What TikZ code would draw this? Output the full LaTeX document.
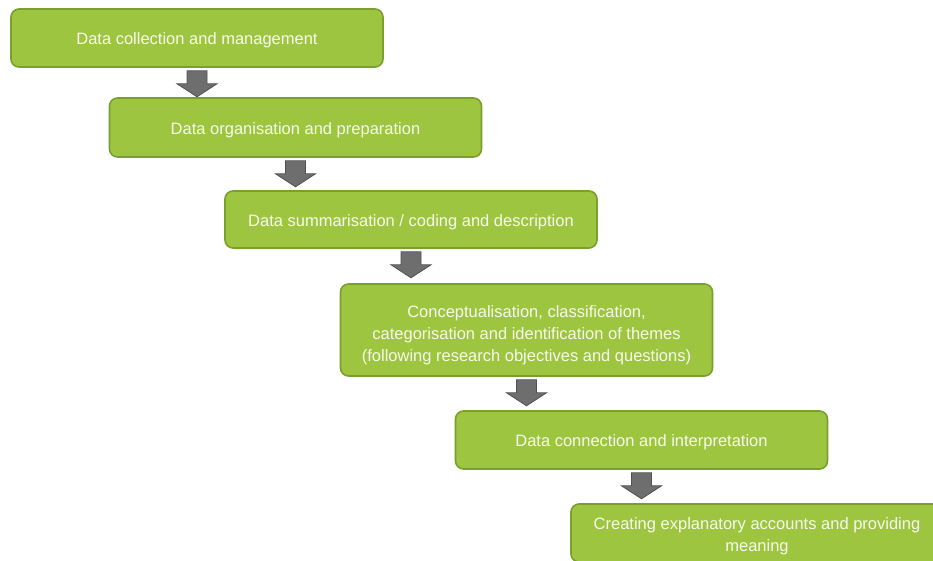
\documentclass[tikz,border=0pt]{standalone}
\usepackage{fontspec}
\setmainfont{Liberation Sans}
\usetikzlibrary{calc}
\definecolor{boxfill}{RGB}{158,197,64}
\definecolor{boxline}{RGB}{122,160,44}
\definecolor{arrfill}{RGB}{110,110,110}
\definecolor{arrline}{RGB}{80,80,80}
\definecolor{txt}{RGB}{246,250,236}
\tikzset{
  stepbox/.style={rectangle, rounded corners=8pt, draw=boxline, fill=boxfill, line width=1.6pt,
    minimum width=372pt, text=txt, inner sep=0pt,
    font=\fontsize{16.5pt}{22pt}\selectfont},
  blockarrow/.style={draw=arrline, fill=arrfill, line width=0.8pt, line join=miter}
}
\newcommand{\steptext}[2][3pt]{\raisebox{-#1}[\height][\depth]{\begin{tabular}{@{}c@{}}#2\end{tabular}}}
\newcommand{\blockdown}[1]{%
  \draw[blockarrow] ($(#1.south)+(-10,3)$) -- ++(0,13) -- ++(-10,0) -- ++(20,13) -- ++(20,-13) -- ++(-10,0) -- ++(0,-13) -- cycle;}
\begin{document}
\begin{tikzpicture}[x=1pt,y=-1pt]
\useasboundingbox (0,0) rectangle (933,561);
\clip (0,0) rectangle (933,561);
\node[stepbox, minimum height=58pt] (b1) at (197,38) {\steptext[2pt]{Data collection and management}};
\node[stepbox, minimum height=59pt] (b2) at (295.5,127.5) {\steptext{Data organisation and preparation}};
\node[stepbox, minimum height=57pt] (b3) at (411,219.5) {\steptext{Data summarisation / coding and description}};
\node[stepbox, minimum height=92pt] (b4) at (526.5,330) {\steptext[5pt]{Conceptualisation, classification,\\categorisation and identification of themes\\(following research objectives and questions)}};
\node[stepbox, minimum height=58pt] (b5) at (641.5,440) {\steptext[2pt]{Data connection and interpretation}};
\node[stepbox, minimum height=58pt] (b6) at (757,533) {\steptext{Creating explanatory accounts and providing\\meaning}};
\blockdown{b1}
\blockdown{b2}
\blockdown{b3}
\blockdown{b4}
\blockdown{b5}
\end{tikzpicture}
\end{document}
